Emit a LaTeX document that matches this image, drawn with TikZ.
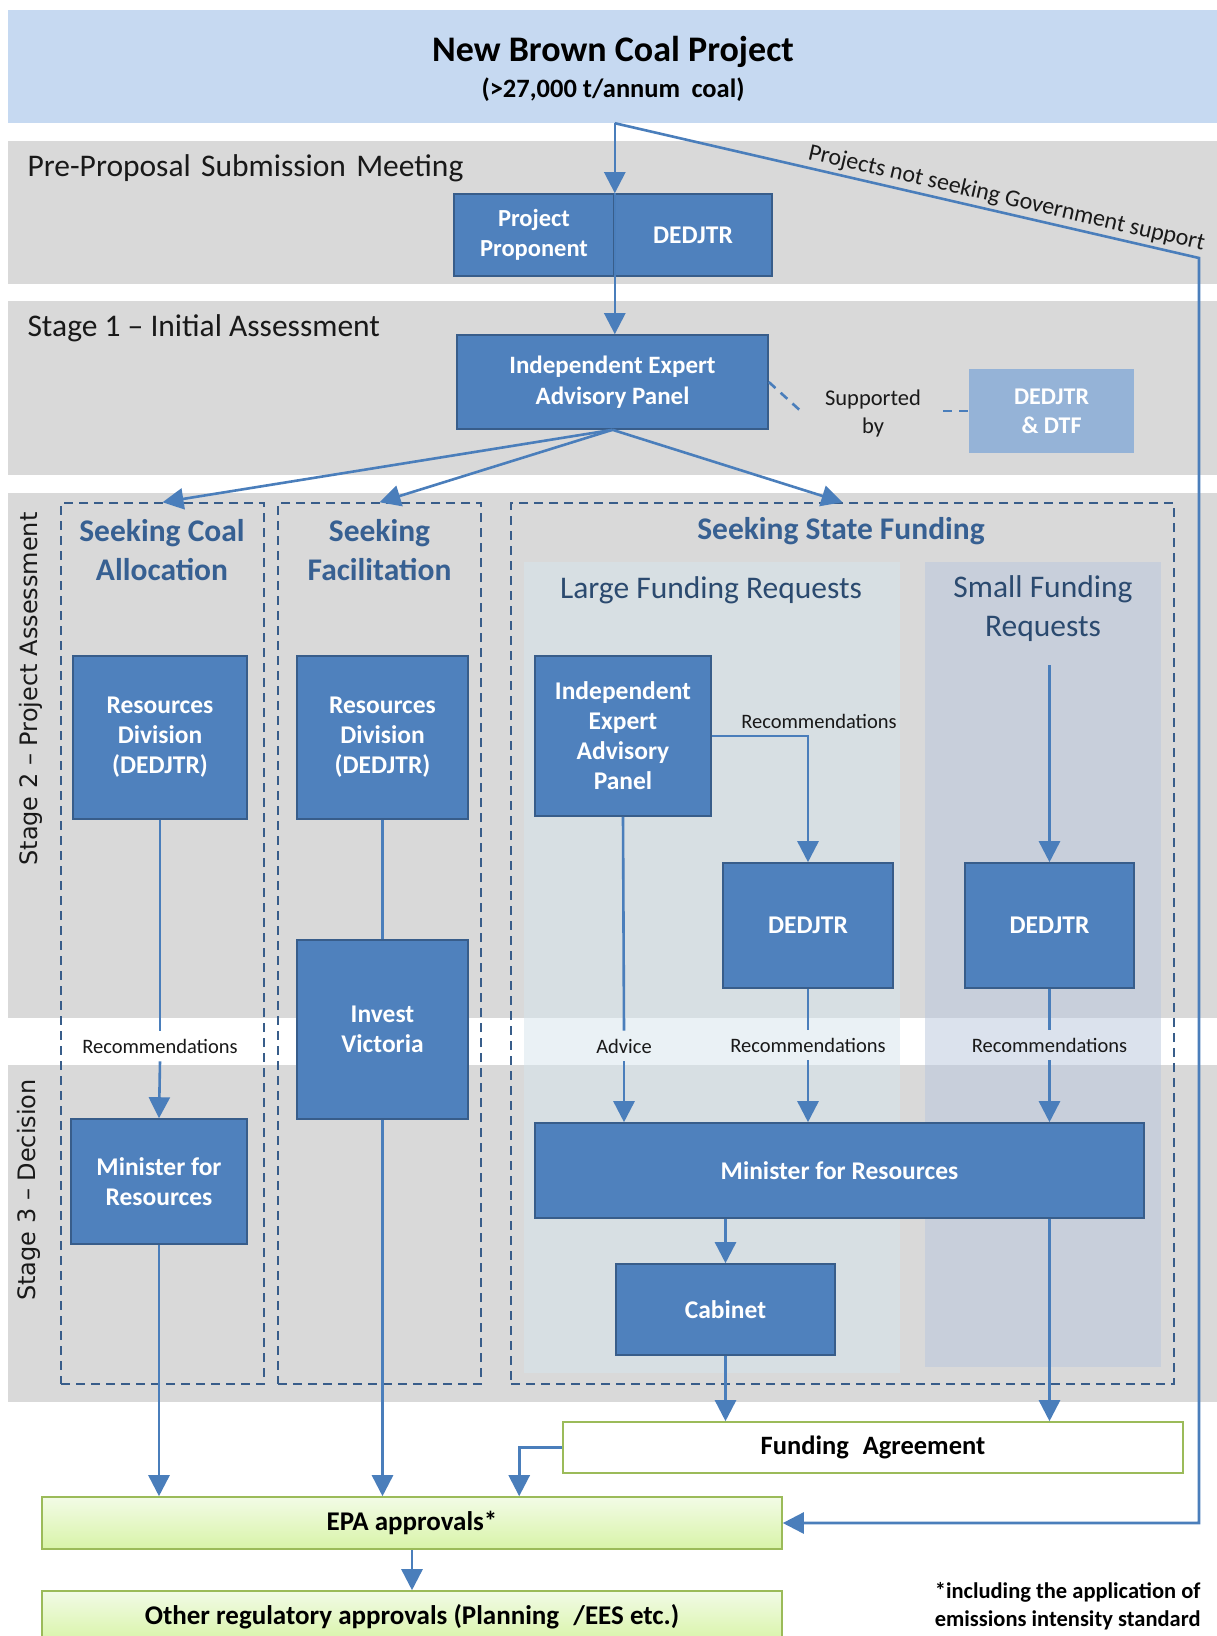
\documentclass[tikz,border=0pt]{standalone}
\usepackage{fontspec}
\setmainfont{Carlito}
\newfontfamily\stagefont{DejaVu Sans}
\usetikzlibrary{arrows.meta,calc}

\definecolor{bannerblue}{HTML}{C6D9F1}
\definecolor{bandgray}{HTML}{D9D9D9}
\definecolor{boxblue}{HTML}{4F81BD}
\definecolor{boxedge}{HTML}{385D8A}
\definecolor{paleblue}{HTML}{95B3D7}
\definecolor{linkblue}{HTML}{4A7EBB}
\definecolor{dashblue}{HTML}{385D8A}
\definecolor{headblue}{HTML}{376092}
\definecolor{subhead}{HTML}{2B4A6F}
\definecolor{largepanel}{HTML}{D7E5ED}
\definecolor{smallpanel}{HTML}{B9C7DD}
\definecolor{greenedge}{HTML}{9BBB59}
\definecolor{greentop}{HTML}{F2FBE6}
\definecolor{greenbot}{HTML}{D8F4A8}

\tikzset{
  bluebox/.style={draw=boxedge, fill=boxblue, line width=1.6pt, text=white,
    align=center, inner sep=0pt, font=\fontsize{25.5}{30}\selectfont\bfseries},
  palebox/.style={fill=paleblue, text=white, align=center, inner sep=0pt,
    font=\fontsize{24}{29}\selectfont\bfseries},
  greenbox/.style={draw=greenedge, line width=1.6pt, align=center, inner sep=0pt,
    top color=greentop, bottom color=greenbot, font=\fontsize{27}{30}\selectfont\bfseries},
  whitebox/.style={draw=greenedge, line width=1.6pt, fill=white, align=center, inner sep=0pt,
    font=\fontsize{26.5}{30}\selectfont\bfseries},
  sectbox/.style={draw=dashblue, line width=1.5pt, dash pattern=on 9pt off 6pt, inner sep=0pt},
  sechead/.style={text=headblue, align=center, font=\fontsize{31.5}{39}\selectfont\bfseries},
  panelhead/.style={text=subhead, align=center, font=\fontsize{31.5}{39}\selectfont},
  bandhead/.style={anchor=west, text=black!90, font=\fontsize{31.5}{36}\selectfont},
  stagehead/.style={rotate=90, text=black!90, font=\stagefont\fontsize{24}{28}\selectfont},
  smalllabel/.style={text=black!90, align=center, inner xsep=2pt, inner ysep=8pt,
    font=\fontsize{20.5}{26}\selectfont},
  wire/.style={draw=linkblue, line width=2.6pt},
  link/.style={wire, -{Triangle[width=21pt,length=21pt]}},
}

\begin{document}
\begin{tikzpicture}[x=1pt,y=-1pt]
\useasboundingbox (0,0) rectangle (1217,1636);
\clip (0,0) rectangle (1217,1636);
\fill[white] (0,0) rectangle (1217,1636);

% heading banner and stage bands
\node[fill=bannerblue, minimum width=1209pt, minimum height=113pt, inner sep=0pt] (banner) at (612.5,66.5) {};
\node[font=\fontsize{36}{40}\selectfont\bfseries] (title) at (613,52) {New Brown Coal Project};
\node[font=\fontsize{26.5}{30}\selectfont\bfseries] (subtitle) at (613,90) {(>27,000 t/annum\hspace{0.2em} coal)};

\fill[bandgray] (8,141) rectangle (1217,284);
\fill[bandgray] (8,301) rectangle (1217,475);
\fill[bandgray] (8,493) rectangle (1217,1018);
\fill[bandgray] (8,1065) rectangle (1217,1402);

\node[bandhead] (prehead) at (24,168) {Pre-Proposal\hspace{0.1em} Submission\hspace{0.1em} Meeting};
\node[bandhead] (s1head) at (24,328) {Stage 1 – Initial Assessment};
\node[stagehead] (s2head) at (31,689) {Stage 2 – Project Assessment};
\node[stagehead] (s3head) at (29,1190) {Stage 3 – Decision};

% funding panels (translucent)
\fill[largepanel, opacity=0.5] (524,562) rectangle (900,1373);
\fill[smallpanel, opacity=0.5] (925,562) rectangle (1161,1367);

% dashed pathway frames
\node[sectbox, minimum width=203pt, minimum height=881pt] (coalbox) at (162.5,943.5) {};
\node[sectbox, minimum width=203pt, minimum height=881pt] (facbox) at (379.5,943.5) {};
\node[sectbox, minimum width=663pt, minimum height=881pt] (fundbox) at (842.5,943.5) {};

\node[sechead] (coalhead) at (162,550) {Seeking Coal\\Allocation};
\node[sechead] (fachead) at (379.5,550) {Seeking\\Facilitation};
\node[sechead] (fundhead) at (841,531) {Seeking State Funding};
\node[panelhead] (largehead) at (711,590) {Large Funding Requests};
\node[panelhead] (smallhead) at (1043,609) {Small Funding\\Requests};

% pre-proposal meeting
\node[bluebox, minimum width=160pt, minimum height=82pt, font=\fontsize{24.5}{30}\selectfont\bfseries] (ppL) at (534,235) {Project\\Proponent};
\node[bluebox, minimum width=158pt, minimum height=82pt] (ppR) at (693,235) {DEDJTR};

% stage 1
\node[bluebox, minimum width=311pt, minimum height=94pt, font=\fontsize{25}{31}\selectfont\bfseries] (ieap1) at (612.5,382) {Independent Expert\\Advisory Panel};
\node[palebox, minimum width=165pt, minimum height=84pt] (dtf) at (1051.5,411) {DEDJTR\\\& DTF};
\node[smalllabel, font=\fontsize{22.5}{28}\selectfont, inner xsep=22pt, inner ysep=2pt] (sup) at (873,413) {Supported\\by};

% stage 2
\node[bluebox, minimum width=174pt, minimum height=163pt] (rd1) at (160,737.5) {Resources\\Division\\(DEDJTR)};
\node[bluebox, minimum width=171pt, minimum height=163pt] (rd2) at (382.5,737.5) {Resources\\Division\\(DEDJTR)};
\node[bluebox, minimum width=176pt, minimum height=160pt] (ieap2) at (623,736) {Independent\\Expert\\Advisory\\Panel};
\node[bluebox, minimum width=170pt, minimum height=125pt] (dedL) at (808,925.5) {DEDJTR};
\node[bluebox, minimum width=169pt, minimum height=125pt] (dedS) at (1049.5,925.5) {DEDJTR};
\node[bluebox, minimum width=171pt, minimum height=179pt] (iv) at (382.5,1029.5) {Invest\\Victoria};

% stage 3
\node[bluebox, minimum width=176pt, minimum height=125pt] (min1) at (159,1181.5) {Minister for\\Resources};
\node[bluebox, minimum width=609pt, minimum height=95pt] (minB) at (839.5,1170.5) {Minister for Resources};
\node[bluebox, minimum width=219pt, minimum height=91pt] (cab) at (725.5,1309.5) {Cabinet};

% outcomes
\node[whitebox, minimum width=620pt, minimum height=51pt] (fa) at (873,1447.5) {Funding\hspace{0.3em} Agreement};
\node[greenbox, minimum width=740pt, minimum height=52pt] (epa) at (412,1523) {EPA approvals*};
\node[greenbox, minimum width=740pt, minimum height=51pt] (other) at (412,1616.5) {Other regulatory approvals (Planning\hspace{0.3em} /EES etc.)};
\node[anchor=east, align=right, font=\fontsize{22.5}{28}\selectfont\bfseries] (note) at (1204,1606) {*including the application of\\emissions intensity standard};

% labels in the gap between stages 2 and 3
\node[smalllabel] (rec1) at (160,1046) {Recommendations};
\node[smalllabel] (adv) at (624,1046) {Advice};
\node[smalllabel] (rec2) at (808,1045) {Recommendations};
\node[smalllabel] (rec3) at (1049.5,1045) {Recommendations};
\node[smalllabel, inner ysep=2pt] (rec0) at (819,721) {Recommendations};

% connectors
\coordinate (start) at (banner.south -| ppL.east);
\coordinate (bend) at (1199,258);
\coordinate (smalltop) at (1049.5,665);
\draw[link] (start) -- (ppL.north east);
\draw[wire] (ppL.north east) -- (ppL.south east);
\draw[link] (ppL.south east) -- (ieap1.north -| ppL.east);
\draw[link] (start) -- node[pos=0.665, sloped, above, inner sep=3pt, font=\fontsize{24}{28}\selectfont, text=black!90] {Projects not seeking Government support} (bend) |- (epa.east);

\draw[wire, dash pattern=on 9pt off 7pt] (ieap1.east) -- (sup.west);
\draw[wire, dash pattern=on 9pt off 7pt] (sup.east |- dtf.west) -- (dtf.west);

\draw[link] (ieap1.south) -- (coalbox.north);
\draw[link] (ieap1.south) -- (facbox.north);
\draw[link] (ieap1.south) -- (fundbox.north);

\draw[wire] (rd1.south) -- (rec1.north);
\draw[link] (rec1.south) -- (min1.north);
\draw[wire] (rd2.south) -- (iv.north);
\draw[link] (ieap2.east) -| (dedL.north);
\draw[link] (smalltop) -- (dedS.north);

\draw[wire] (ieap2.south) -- (adv.north);
\draw[link] (adv.south) -- (adv.south |- minB.north);
\draw[wire] (dedL.south) -- (rec2.north);
\draw[link] (rec2.south) -- (rec2.south |- minB.north);
\draw[wire] (dedS.south) -- (rec3.north);
\draw[link] (rec3.south) -- (rec3.south |- minB.north);

\draw[link] (minB.south -| cab.north) -- (cab.north);
\draw[link] (cab.south) -- (cab.south |- fa.north);
\draw[link] (minB.south -| dedS.south) -- (fa.north -| dedS.south);

\draw[link] (min1.south) -- (min1.south |- epa.north);
\draw[link] (iv.south) -- (iv.south |- epa.north);
\draw[link] (fa.west) -| ($(epa.north west)+(478,0)$);
\draw[link] (epa.south) -- (other.north);
\end{tikzpicture}
\end{document}
